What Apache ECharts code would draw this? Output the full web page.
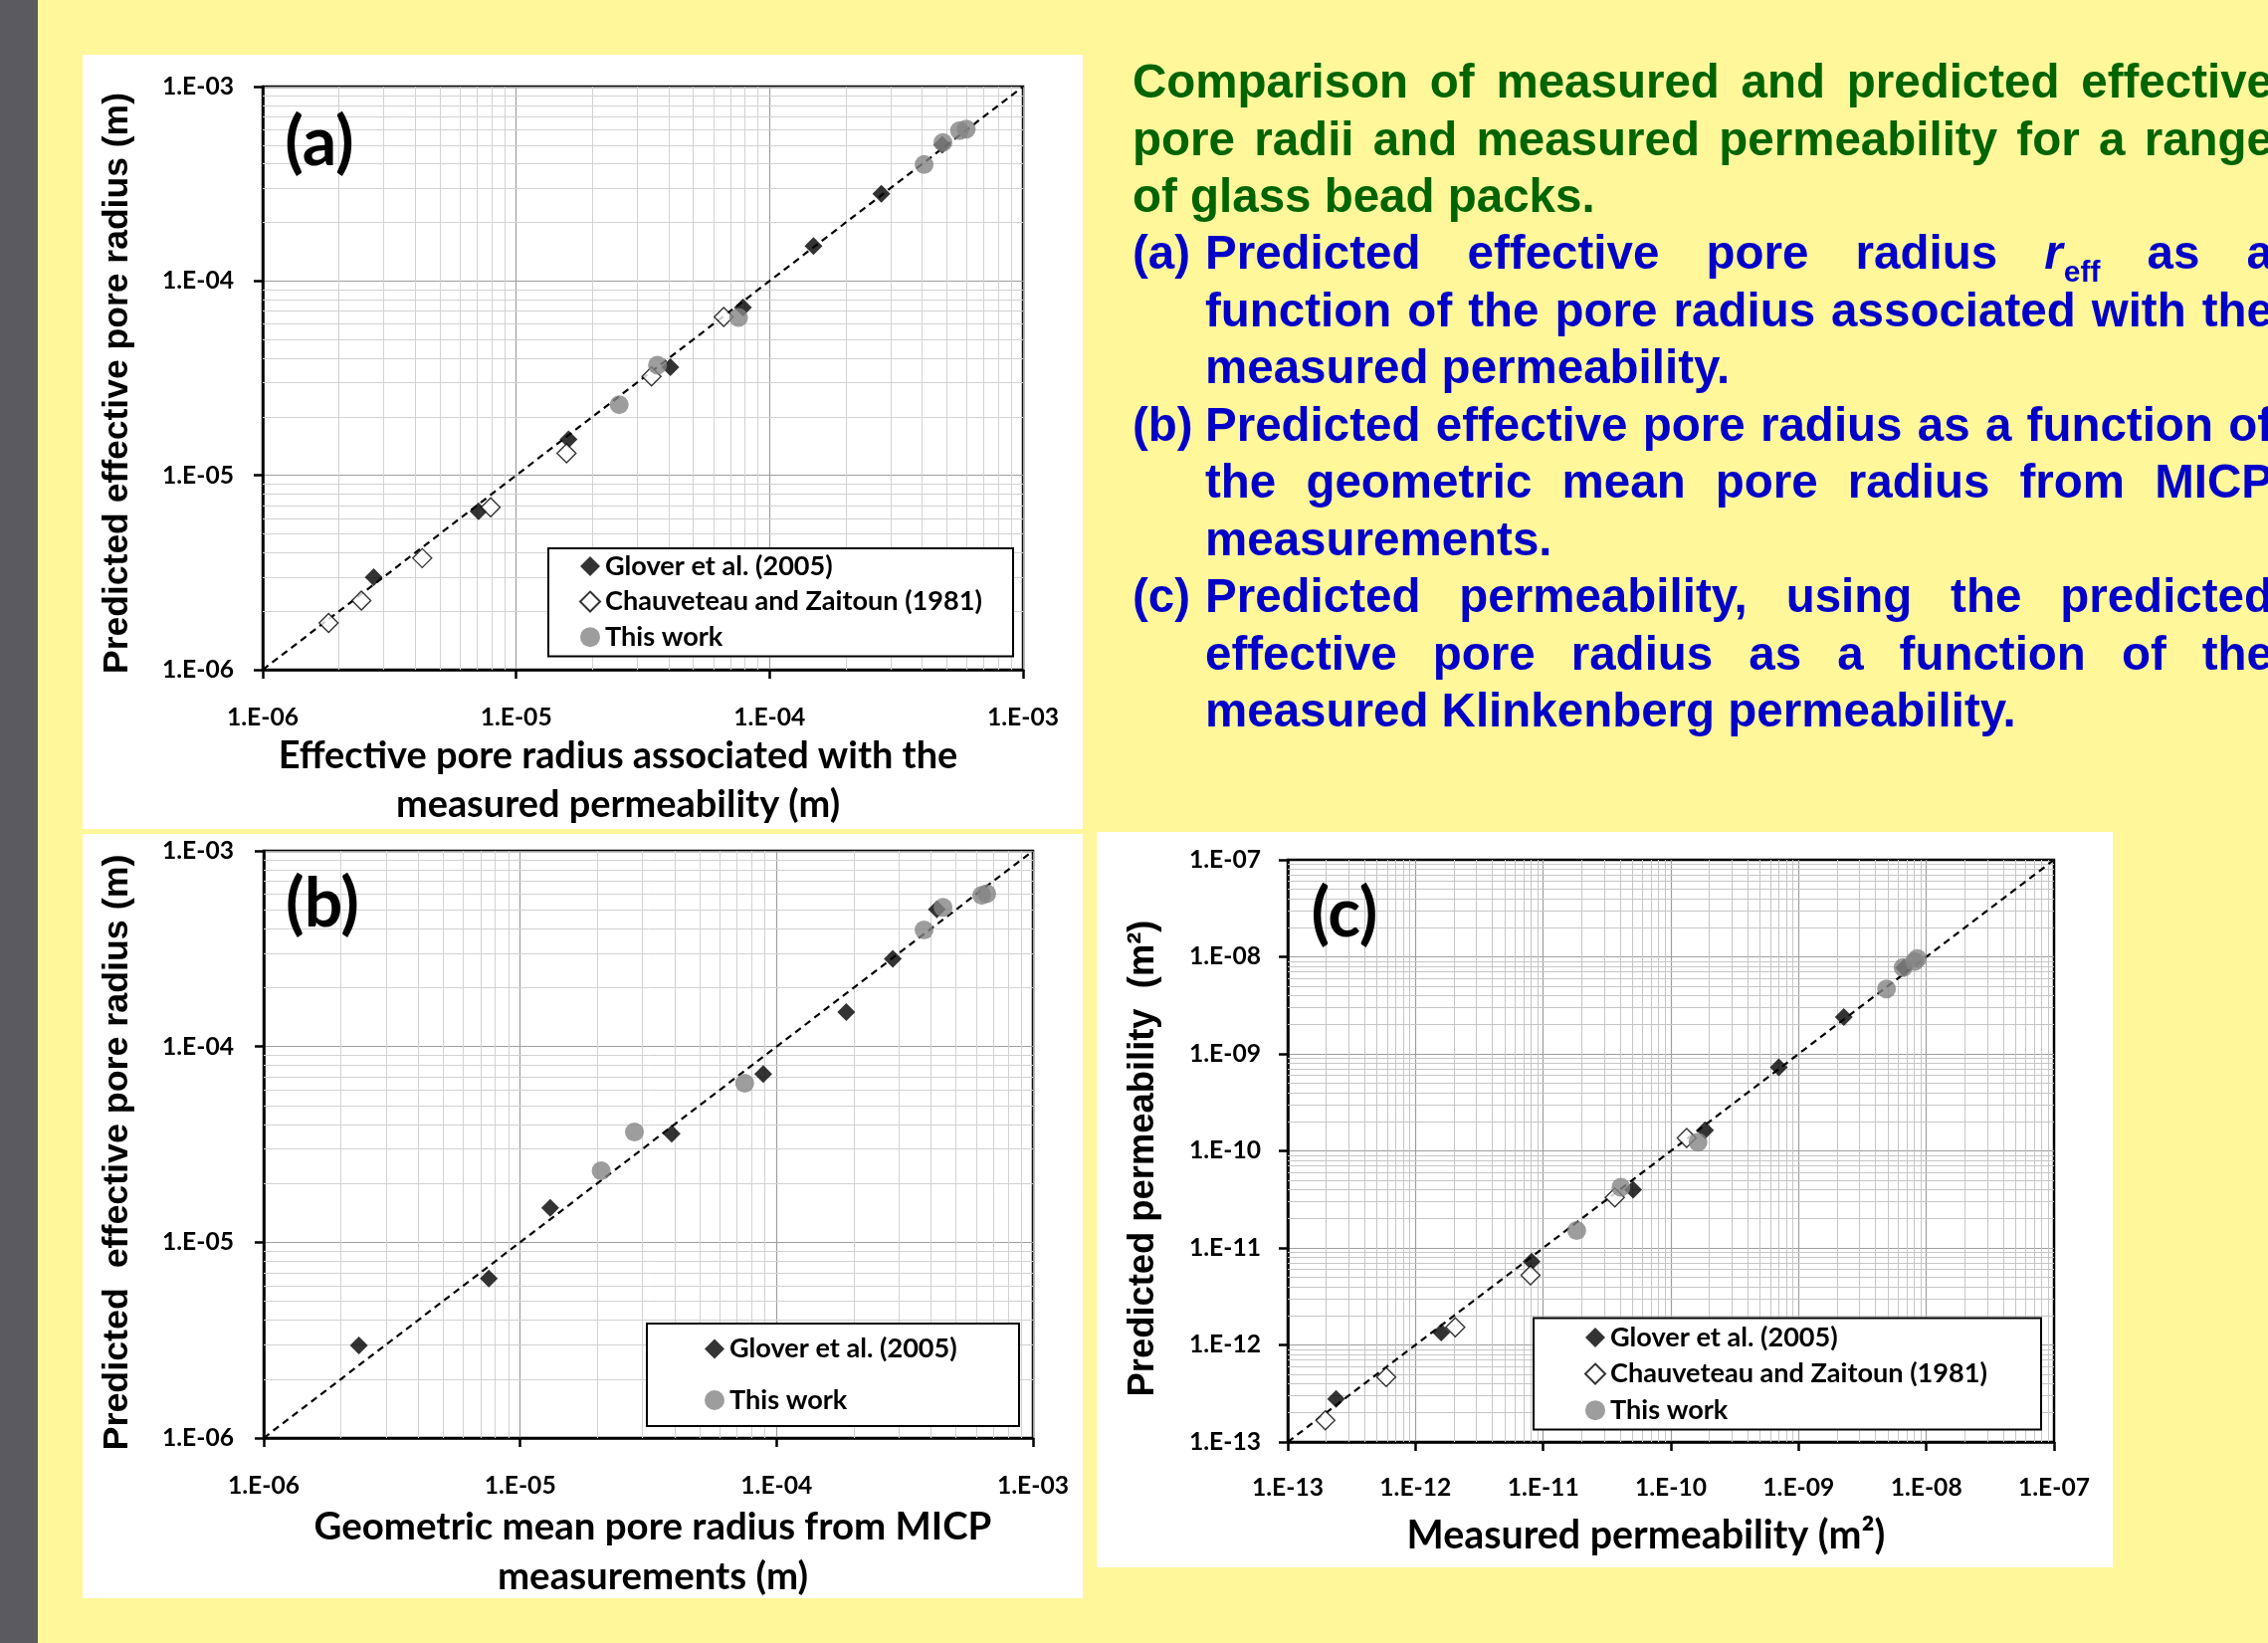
<!DOCTYPE html>
<html>
<head>
<meta charset="utf-8">
<title>Measured vs predicted effective pore radii and permeability</title>
<script src="https://cdn.jsdelivr.net/npm/echarts@6.0.0/dist/echarts.min.js"></script>
<style>
html,body{margin:0;padding:0;background:#fff79a;overflow:hidden;}
#chart{width:2279px;height:1651px;}
</style>
</head>
<body>
<div id="chart"></div>
<script>
// ---------------- DATA ----------------
const SERIES_NAMES = ['Glover et al. (2005)', 'Chauveteau and Zaitoun (1981)', 'This work'];

const rangeRadius = [1e-6, 1e-3];
const rangePerm = [1e-13, 1e-7];
const tickLabelsRadius = ['1.E-06', '1.E-05', '1.E-04', '1.E-03'];
const tickLabelsPerm = ['1.E-13', '1.E-12', '1.E-11', '1.E-10', '1.E-09', '1.E-08', '1.E-07'];
const minorMultipliers = [2, 3, 4, 5, 6, 7, 8, 9];

// panel (a): x = effective pore radius from measured permeability, y = predicted effective pore radius
const gloverA = [[2.74e-6, 2.99e-6], [7.1e-6, 6.53e-6], [1.61e-5, 1.53e-5], [4.06e-5, 3.6e-5],
                 [7.85e-5, 7.31e-5], [1.49e-4, 1.51e-4], [2.76e-4, 2.81e-4], [4.8e-4, 5.02e-4]];
const chauveteauA = [[1.82e-6, 1.74e-6], [2.45e-6, 2.27e-6], [4.26e-6, 3.75e-6], [7.93e-6, 6.86e-6],
                     [1.58e-5, 1.30e-5], [3.42e-5, 3.23e-5], [6.59e-5, 6.53e-5]];
const thisWorkA = [[2.55e-5, 2.31e-5], [3.61e-5, 3.69e-5], [7.54e-5, 6.49e-5], [4.07e-4, 3.97e-4],
                   [4.83e-4, 5.16e-4], [5.62e-4, 5.93e-4], [5.97e-4, 6.04e-4]];

// panel (b): x = geometric mean pore radius from MICP
const gloverB = [[2.35e-6, 2.97e-6], [7.55e-6, 6.53e-6], [1.31e-5, 1.50e-5], [3.90e-5, 3.59e-5],
                 [8.87e-5, 7.24e-5], [1.87e-4, 1.50e-4], [2.84e-4, 2.81e-4], [4.22e-4, 5.02e-4]];
const thisWorkB = [[2.07e-5, 2.32e-5], [2.79e-5, 3.66e-5], [7.51e-5, 6.50e-5], [3.76e-4, 3.94e-4],
                   [4.46e-4, 5.14e-4], [6.31e-4, 5.93e-4], [6.6e-4, 6.04e-4]];

// panel (c): x = measured permeability, y = predicted permeability
const gloverC = [[2.39e-13, 2.78e-13], [1.59e-12, 1.34e-12], [8.11e-12, 7.24e-12], [5.06e-11, 3.97e-11],
                 [1.85e-10, 1.63e-10], [7.0e-10, 7.28e-10], [2.26e-9, 2.40e-9], [6.7e-9, 7.7e-9]];
const chauveteauC = [[1.97e-13, 1.67e-13], [5.9e-13, 4.68e-13], [2.05e-12, 1.52e-12], [7.96e-12, 5.22e-12],
                     [3.64e-11, 3.31e-11], [1.33e-10, 1.36e-10]];
const thisWorkC = [[1.83e-11, 1.51e-11], [4.06e-11, 4.22e-11], [1.63e-10, 1.23e-10], [4.88e-9, 4.67e-9],
                   [6.59e-9, 7.75e-9], [8.07e-9, 8.95e-9], [8.5e-9, 9.6e-9]];

// ---------------- STYLE / LAYOUT ----------------
const W = 2279, H = 1651;
const C = {bg: '#fff79a', bar: '#5a5a60', panel: '#ffffff', green: '#006400', blue: '#0000c8',
           major: '#9e9e9e', minor: '#d2d2d2', minorC: '#c6c6c6', gray: '#858585'};
const CAL = 'Lato, "Open Sans", sans-serif';
const ARIAL = '"Liberation Sans", Arial, sans-serif';

const mc = document.createElement('canvas').getContext('2d');
function measure(str, size, family, weight, style) {
  mc.font = (style || 'normal') + ' ' + (weight || 'bold') + ' ' + size + 'px ' + family;
  return mc.measureText(str).width;
}
function fit(str, target, family) { return 100 * target / measure(str, 100, family, 'bold'); }

const tickFS = fit('1.E-06', 72, CAL);
const legendFS = fit('Chauveteau and Zaitoun (1981)', 379, CAL);
const xTitleFS = [fit('Effective pore radius associated with the', 683, CAL),
                  fit('Geometric mean pore radius from MICP', 681, CAL),
                  fit('Measured permeability (m²)', 481, CAL)];
const yTitleFS = [fit('Predicted effective pore radius (m)', 584, ARIAL),
                  fit('Predicted  effective pore radius (m)', 599, ARIAL),
                  fit('Predicted permeability  (m²)', 479, ARIAL)];

const grids = [
  {left: 264, top: 87, width: 764, height: 586},
  {left: 265, top: 855, width: 773, height: 590},
  {left: 1294, top: 864, width: 770, height: 585}
];

function logAxis(kind, gi, range, labels, margin) {
  const e0 = Math.round(Math.log10(range[0]));
  return {
    type: 'log', logBase: 10, gridIndex: gi, min: range[0], max: range[1],
    position: kind === 'x' ? 'bottom' : 'left',
    axisLine: {show: true, onZero: false, lineStyle: {color: '#000', width: 2.5}},
    axisTick: {show: true, inside: false, length: 9, lineStyle: {color: '#000', width: 2.5}},
    axisLabel: {show: true, margin: margin, color: '#000', fontFamily: CAL, fontWeight: 'bold', fontSize: tickFS,
      formatter: function (v) { const l = labels[Math.round(Math.log10(v)) - e0]; return l === undefined ? '' : l; }},
    splitLine: {show: true, showMinLine: false, showMaxLine: false, lineStyle: {color: C.major, width: 1.2}},
    minorTick: {show: false}, minorSplitLine: {show: false}
  };
}

function minorValues(range) {
  const out = [];
  const a = Math.round(Math.log10(range[0])), b = Math.round(Math.log10(range[1]));
  for (let e = a; e < b; e++) minorMultipliers.forEach(function (m) { out.push(m * Math.pow(10, e)); });
  return out;
}

function refLine(pi, range, minorColor) {
  const mv = minorValues(range);
  return {
    type: 'line', name: '1:1', xAxisIndex: pi, yAxisIndex: pi,
    data: [[range[0], range[0]], [range[1], range[1]]],
    symbol: 'none', showSymbol: false, silent: true, z: 2, animation: false,
    lineStyle: {color: '#000', width: 2.2, type: [7, 5]},
    emphasis: {disabled: true},
    markLine: {
      silent: true, symbol: ['none', 'none'], z: 1, animation: false, precision: 20,
      label: {show: false}, emphasis: {disabled: true},
      lineStyle: {color: minorColor, width: 1, type: 'solid'},
      data: mv.map(function (v) { return {xAxis: v}; }).concat(mv.map(function (v) { return {yAxis: v}; }))
    }
  };
}

function scatter(pi, kind, data, sizes) {
  const base = {type: 'scatter', name: SERIES_NAMES[kind], xAxisIndex: pi, yAxisIndex: pi, data: data,
                z: 3, animation: false, emphasis: {disabled: true}};
  if (kind === 0) { base.symbol = 'diamond'; base.symbolSize = sizes[0]; base.itemStyle = {color: '#000'}; }
  if (kind === 1) { base.symbol = 'diamond'; base.symbolSize = sizes[1];
                    base.itemStyle = {color: '#fff', borderColor: '#000', borderWidth: 1.4}; }
  if (kind === 2) { base.symbol = 'circle'; base.symbolSize = sizes[2]; base.itemStyle = {color: C.gray}; }
  return base;
}

const sizes = [18, 19, 19];

function legendBox(names, left, top, right, pitch, bottomPad, iconCenter) {
  const iw = 20;
  const pl = iconCenter - left - iw / 2;
  const maxW = Math.max.apply(null, names.map(function (n) { return measure(n, legendFS, CAL, 'bold'); }));
  const pr = right - (left + pl + iw + 5 + maxW);
  return {
    show: true, data: names, orient: 'vertical', left: left, top: top,
    padding: [pitch.firstCenter - top - legendFS / 2, pr, bottomPad - legendFS / 2, pl],
    itemGap: pitch.step - legendFS, itemWidth: iw, itemHeight: iw,
    borderColor: '#000', borderWidth: 2, backgroundColor: '#fff', selectedMode: false,
    textStyle: {fontFamily: CAL, fontWeight: 'bold', fontSize: legendFS, color: '#000'}
  };
}

// ---------------- GRAPHICS (panels, titles, caption) ----------------
const g = [];
g.push({type: 'rect', z: -20, silent: true, shape: {x: 0, y: 0, width: 38, height: H}, style: {fill: C.bar}});
[[83, 55, 1005, 778], [83, 838, 1005, 768], [1102, 836, 1021, 739]].forEach(function (r) {
  g.push({type: 'rect', z: -20, silent: true, shape: {x: r[0], y: r[1], width: r[2], height: r[3]}, style: {fill: C.panel}});
});

function txt(x, y, text, o) {
  const st = Object.assign({text: text, fill: '#000', fontWeight: 'bold', fontFamily: CAL, fontSize: 20,
    align: 'center', verticalAlign: 'middle', textAlign: 'center', textVerticalAlign: 'middle'}, o || {});
  if (o && o.align) st.textAlign = o.align;
  if (o && o.verticalAlign) st.textVerticalAlign = o.verticalAlign;
  return {type: 'text', x: x, y: y, z: 10, silent: true, style: st};
}

// panel letters
g.push(txt(321, 144, '(a)', {fontSize: 68}));
g.push(txt(324, 909, '(b)', {fontSize: 68}));
g.push(txt(1351, 919, '(c)', {fontSize: 68}));

// x-axis titles
g.push(txt(621, 784.5, 'Effective pore radius associated with the\nmeasured permeability (m)', {fontSize: xTitleFS[0], lineHeight: 49}));
g.push(txt(656, 1560, 'Geometric mean pore radius from MICP\nmeasurements (m)', {fontSize: xTitleFS[1], lineHeight: 50}));
g.push(txt(1654, 1543, 'Measured permeability (m²)', {fontSize: xTitleFS[2]}));

// y-axis titles
const yt = [[118, 385, 'Predicted effective pore radius (m)'],
            [118, 1158, 'Predicted  effective pore radius (m)'],
            [1149, 1164, 'Predicted permeability  (m²)']];
yt.forEach(function (t, i) {
  const e = txt(t[0], t[1], t[2], {fontFamily: ARIAL, fontSize: yTitleFS[i]});
  e.rotation = Math.PI / 2;
  g.push(e);
});

// caption (justified block)
const capFS = 47.5, subFS = 30;
const L_TAG = 1138, L_TEXT = 1211, R_EDGE = 2284, BASE0 = 101.5, PITCH = 57.45;
const caption = [
  {c: C.green, x0: L_TAG, t: 'Comparison of measured and predicted effective', j: true},
  {c: C.green, x0: L_TAG, t: 'pore radii and measured permeability for a range', j: true},
  {c: C.green, x0: L_TAG, t: 'of glass bead packs.', j: false},
  {c: C.blue, tag: '(a)', x0: L_TEXT, t: 'Predicted effective pore radius r_eff as a', j: true},
  {c: C.blue, x0: L_TEXT, t: 'function of the pore radius associated with the', j: true},
  {c: C.blue, x0: L_TEXT, t: 'measured permeability.', j: false},
  {c: C.blue, tag: '(b)', x0: L_TEXT, t: 'Predicted effective pore radius as a function of', j: true},
  {c: C.blue, x0: L_TEXT, t: 'the geometric mean pore radius from MICP', j: true},
  {c: C.blue, x0: L_TEXT, t: 'measurements.', j: false},
  {c: C.blue, tag: '(c)', x0: L_TEXT, t: 'Predicted permeability, using the predicted', j: true},
  {c: C.blue, x0: L_TEXT, t: 'effective pore radius as a function of the', j: true},
  {c: C.blue, x0: L_TEXT, t: 'measured Klinkenberg permeability.', j: false}
];
const MID = 0.3465;
caption.forEach(function (ln, i) {
  const yb = BASE0 + i * PITCH;
  const ym = yb - MID * capFS;
  const base = {fontFamily: ARIAL, fontSize: capFS, fill: ln.c, align: 'left'};
  if (ln.tag) g.push(txt(L_TAG, ym, ln.tag, base));
  const words = ln.t.split(' ');
  const rW = measure('r', capFS, ARIAL, 'bold', 'italic');
  const widths = words.map(function (w) {
    return w === 'r_eff' ? rW + 1 + measure('eff', subFS, ARIAL, 'bold') : measure(w, capFS, ARIAL, 'bold');
  });
  const total = widths.reduce(function (a, b) { return a + b; }, 0);
  const sp = ln.j ? (R_EDGE - ln.x0 - total) / (words.length - 1) : measure(' ', capFS, ARIAL, 'bold');
  let x = ln.x0;
  words.forEach(function (w, k) {
    if (w === 'r_eff') {
      g.push(txt(x, ym, 'r', Object.assign({}, base, {fontStyle: 'italic'})));
      g.push(txt(x + rW + 1, yb + 11 - MID * subFS, 'eff', Object.assign({}, base, {fontSize: subFS})));
    } else {
      g.push(txt(x, ym, w, base));
    }
    x += widths[k] + sp;
  });
});

// ---------------- OPTION ----------------
const option = {
  backgroundColor: C.bg,
  animation: false,
  textStyle: {fontFamily: CAL},
  grid: grids.map(function (gr) {
    return Object.assign({show: true, borderColor: '#000', borderWidth: 2.5, backgroundColor: 'rgba(0,0,0,0)',
                          containLabel: false, outerBoundsMode: 'none'}, gr);
  }),
  xAxis: [logAxis('x', 0, rangeRadius, tickLabelsRadius, 36),
          logAxis('x', 1, rangeRadius, tickLabelsRadius, 36),
          logAxis('x', 2, rangePerm, tickLabelsPerm, 34)],
  yAxis: [logAxis('y', 0, rangeRadius, tickLabelsRadius, 29),
          logAxis('y', 1, rangeRadius, tickLabelsRadius, 30),
          logAxis('y', 2, rangePerm, tickLabelsPerm, 27)],
  legend: [
    legendBox(SERIES_NAMES, 551, 551, 1017, {firstCenter: 569, step: 35.7}, 660 - 640.5, 592),
    legendBox([SERIES_NAMES[0], SERIES_NAMES[2]], 650, 1330, 1024, {firstCenter: 1355.6, step: 51.6}, 1433 - 1407, 718),
    legendBox(SERIES_NAMES, 1541, 1324.5, 2050, {firstCenter: 1344, step: 36.7}, 1436.7 - 1417.3, 1602)
  ],
  graphic: {elements: g},
  series: [
    refLine(0, rangeRadius, C.minor),
    scatter(0, 0, gloverA, sizes), scatter(0, 1, chauveteauA, sizes), scatter(0, 2, thisWorkA, sizes),
    refLine(1, rangeRadius, C.minor),
    scatter(1, 0, gloverB, sizes), scatter(1, 2, thisWorkB, sizes),
    refLine(2, rangePerm, C.minorC),
    scatter(2, 0, gloverC, sizes), scatter(2, 1, chauveteauC, sizes), scatter(2, 2, thisWorkC, sizes)
  ]
};

const chart = echarts.init(document.getElementById('chart'), null, {renderer: 'canvas', width: W, height: H});
chart.setOption(option);
</script>
</body>
</html>
